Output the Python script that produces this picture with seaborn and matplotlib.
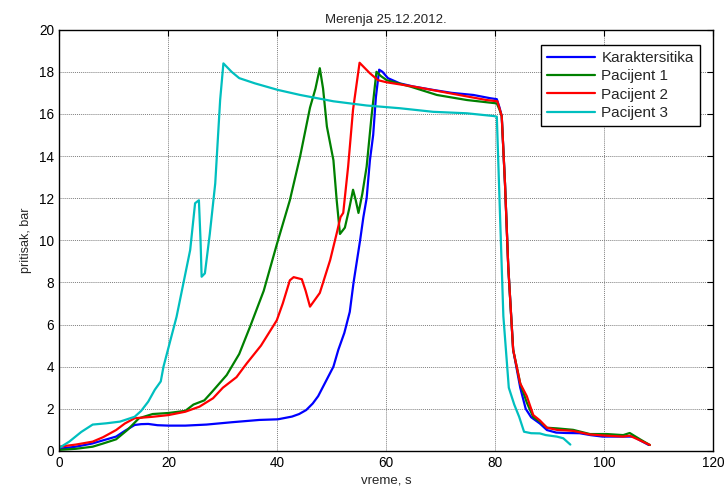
import matplotlib
matplotlib.use("Agg")
import matplotlib.pyplot as plt
import seaborn as sns
import pandas as pd

# ---- data ----
blue_x = [0, 3, 6, 8, 10.4, 12, 13.8, 15, 16.3, 18, 20, 23.1, 27, 31.6, 36.7, 40.1, 42.7, 44, 45.3,
          46.5, 47.5, 48.7, 50.3, 51.2, 52.3, 53.3, 54, 54.6, 55.2, 55.8, 56.4, 57, 57.6, 58.1, 58.7,
          59.3, 60.3, 62.5, 65, 68.6, 72, 76, 79, 80.3, 80.8, 81.2, 81.8, 82.4, 83.3, 84.6, 85.6, 86.6,
          88.2, 89.5, 91.2, 93, 95.5, 97.5, 99.7, 102, 103.8, 105.4, 106.6, 108.2]
blue_y = [0.1, 0.2, 0.35, 0.5, 0.68, 0.95, 1.23, 1.27, 1.28, 1.22, 1.2, 1.2, 1.25, 1.36, 1.47, 1.5, 1.63,
          1.75, 1.94, 2.25, 2.6, 3.2, 4.0, 4.8, 5.6, 6.6, 8.0, 9.0, 10.0, 11.1, 12.0, 13.8, 15.0, 16.8, 18.1,
          18.0, 17.7, 17.45, 17.3, 17.14, 17.0, 16.9, 16.75, 16.7, 16.3, 15.9, 12.7, 8.75, 4.8, 3.0, 2.0, 1.6,
          1.3, 0.99, 0.87, 0.85, 0.84, 0.75, 0.68, 0.68, 0.68, 0.68, 0.5, 0.28]

green_x = [0, 3, 6.1, 8, 10.4, 12.5, 14.6, 17.1, 20, 23.1, 24.6, 26.6, 28, 30.7, 33, 35, 37.5, 39.9,
           42.3, 44.2, 46, 47, 47.8, 48.4, 49.1, 50.3, 50.9, 51.5, 52.4, 53.2, 53.9, 54.4, 54.9, 55.6,
           56.4, 57.3, 58.2, 59, 60.1, 64.4, 69.3, 74.8, 80.3, 80.8, 81.2, 81.8, 82.4, 83.3, 84.6, 85.8,
           87, 88.2, 89.5, 91.3, 94.3, 97.4, 100.5, 103.5, 104.7, 106.6, 108.4]
green_y = [0.05, 0.1, 0.2, 0.35, 0.55, 1.0, 1.55, 1.75, 1.8, 1.9, 2.2, 2.4, 2.8, 3.6, 4.6, 5.9, 7.6, 9.8,
           11.9, 14.0, 16.3, 17.2, 18.17, 17.2, 15.4, 13.8, 11.9, 10.3, 10.6, 11.5, 12.4, 11.9, 11.3, 12.2,
           13.5, 15.9, 18.0, 17.8, 17.6, 17.3, 16.9, 16.66, 16.5, 16.2, 15.9, 12.7, 8.75, 4.8, 3.2, 2.3,
           1.6, 1.4, 1.1, 1.07, 1.0, 0.8, 0.8, 0.75, 0.85, 0.55, 0.28]

red_x = [0, 3, 6.1, 8, 10.4, 12, 13.8, 17.1, 20, 23.1, 25.7, 28.2, 30, 32.5, 34.4, 37, 39.9, 41, 42.3,
         43, 44.5, 45.2, 46, 47.8, 49.7, 50.9, 51.6, 52.1, 53, 53.9, 55.1, 57, 58.5, 60.1, 65, 71.7, 78.4,
         80.4, 81.2, 81.8, 82.4, 83.3, 84.6, 85.8, 87, 88.2, 89.5, 91.3, 94.3, 97.4, 100.5, 103.5, 104.7,
         106.6, 108.4]
red_y = [0.2, 0.3, 0.44, 0.65, 0.99, 1.3, 1.55, 1.62, 1.7, 1.86, 2.1, 2.5, 3.0, 3.5, 4.16, 5.0, 6.2, 7.0,
         8.1, 8.25, 8.15, 7.6, 6.85, 7.5, 9.06, 10.33, 11.1, 11.3, 13.5, 16.2, 18.43, 17.93, 17.6, 17.5, 17.3,
         16.98, 16.66, 16.6, 15.9, 12.7, 8.75, 4.8, 3.2, 2.6, 1.7, 1.45, 1.1, 1.0, 0.95, 0.78, 0.72, 0.68,
         0.72, 0.5, 0.28]

cyan_x = [0, 1.8, 4, 6.1, 8.6, 11.1, 13.8, 15, 16.3, 17.5, 18.6, 19.1, 21.5, 24, 24.9, 25.6, 25.9, 26.1,
          26.7, 27.6, 28.6, 29.5, 30.1, 31.6, 33, 35.9, 40.1, 44.2, 50.3, 56.4, 62.5, 68.6, 74.8, 79.7,
          80.3, 80.9, 81.5, 82.5, 83.5, 84.4, 85.3, 86.6, 88.2, 89.3, 91.3, 92.5, 93.8]
cyan_y = [0.15, 0.44, 0.9, 1.25, 1.31, 1.39, 1.62, 1.9, 2.34, 2.9, 3.3, 4.0, 6.37, 9.54, 11.76, 11.9, 10.0,
          8.27, 8.43, 10.3, 12.7, 16.66, 18.4, 18.0, 17.7, 17.45, 17.14, 16.9, 16.6, 16.4, 16.27, 16.1,
          16.03, 15.9, 15.87, 11.1, 6.4, 3.0, 2.2, 1.62, 0.91, 0.84, 0.83, 0.75, 0.68, 0.6, 0.3]

series_names = ["Karaktersitika", "Pacijent 1", "Pacijent 2", "Pacijent 3"]
x_ticks = [0, 20, 40, 60, 80, 100, 120]
y_ticks = list(range(0, 21, 2))

# ---- plotting ----
sns.set_style("white")
plt.rcParams["font.family"] = ["Liberation Sans", "DejaVu Sans"]

fig = plt.figure(figsize=(7.27, 4.93), dpi=100)
ax = fig.add_axes([0.0818, 0.0854, 0.899, 0.8544])

colors = ["#0000FF", "#008000", "#FF0000", "#00BFBF"]
data = [(blue_x, blue_y), (green_x, green_y), (red_x, red_y), (cyan_x, cyan_y)]
for name, (xs, ys), c in zip(series_names, data, colors):
    df = pd.DataFrame({"t": xs, "p": ys})
    sns.lineplot(data=df, x="t", y="p", ax=ax, color=c, linewidth=1.6,
                 label=name, sort=False, estimator=None)

ax.set_xlim(0, 120)
ax.set_ylim(0, 20)
ax.set_xticks(x_ticks)
ax.set_yticks(y_ticks)
ax.grid(True, color="0.5", linestyle=(0, (1, 1)), linewidth=0.7)
ax.set_axisbelow(True)
for s in ax.spines.values():
    s.set_color("black")
    s.set_linewidth(1.0)
ax.tick_params(direction="in", top=True, right=True, length=4, width=0.8,
               labelsize=9.8, colors="black", pad=4)

ax.set_title("Merenja 25.12.2012.", fontsize=9.5, pad=5)
ax.set_xlabel("vreme, s", fontsize=9.5, labelpad=3)
ax.set_ylabel("pritisak, bar", fontsize=9, labelpad=5)

leg = ax.legend(loc="upper right", bbox_to_anchor=(0.980, 0.9637), fontsize=11,
                frameon=True, fancybox=False, handlelength=3.1, handletextpad=0.45,
                borderpad=0.4, labelspacing=0.28, borderaxespad=0)
leg.get_frame().set_edgecolor("black")
leg.get_frame().set_linewidth(1.0)
leg.get_frame().set_alpha(1)

fig.savefig("out.png", dpi=100)
